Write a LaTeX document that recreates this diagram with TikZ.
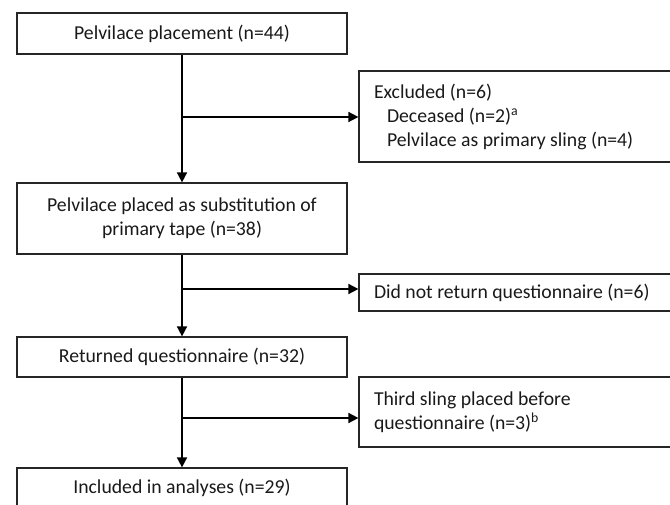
\documentclass[tikz,border=0pt]{standalone}
\usepackage{fontspec}
\setmainfont{Carlito}
\usetikzlibrary{arrows.meta}
\begin{document}
\begin{tikzpicture}[x=0.75pt,y=-0.75pt,
  box/.style={draw=black!85, line width=0.9pt, inner sep=0pt,
    font=\fontsize{14.8}{18}\selectfont, text=black!90},
  lbox/.style={box, minimum width=247.5pt, align=center},
  rbox/.style={box, minimum width=240.75pt, text width=218.25pt, align=flush left},
  conn/.style={line width=1.2pt, -{Triangle[length=7.5pt,width=7.5pt]}}]
\useasboundingbox (0,0) rectangle (670,505);
\clip (0,0) rectangle (670,505);
% main column
\node[lbox, minimum height=30.75pt] (b1) at (182,33.5) {Pelvilace placement (n=44)};
\node[lbox, minimum height=53.25pt] (b2) at (182,218.5) {Pelvilace placed as substitution of\\primary tape (n=38)};
\node[lbox, minimum height=30pt] (b3) at (182,357) {Returned questionnaire (n=32)};
\node[lbox, minimum height=30pt] (b4) at (182,488) {Included in analyses (n=29)};
% side boxes
\node[rbox, minimum height=68.25pt] (r1) at (519.5,116.5) {Excluded (n=6)\\\hspace*{9.75pt}Deceased (n=2)\textsuperscript{a}\\\hspace*{9.75pt}Pelvilace as primary sling (n=4)};
\node[rbox, minimum height=27.75pt] (r2) at (519.5,292.5) {Did not return questionnaire (n=6)};
\node[rbox, minimum height=52.5pt] (r3) at (519.5,412) {Third sling placed before\\questionnaire (n=3)\textsuperscript{b}};
% branch points
\coordinate (j1) at (182,117);
\coordinate (j2) at (182,289);
\coordinate (j3) at (182,418);
% connectors
\draw[conn] (b1.south) -- (b2.north);
\draw[conn] (b2.south) -- (b3.north);
\draw[conn] (b3.south) -- (b4.north);
\draw[conn] (j1) -- (j1 -| r1.west);
\draw[conn] (j2) -- (j2 -| r2.west);
\draw[conn] (j3) -- (j3 -| r3.west);
\end{tikzpicture}
\end{document}
